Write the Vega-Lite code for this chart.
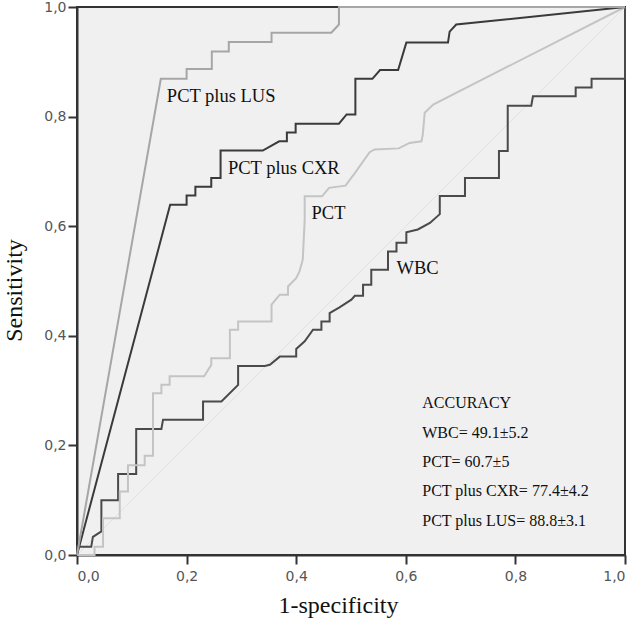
{
  "$schema": "https://vega.github.io/schema/vega-lite/v6.json",
  "width": 548,
  "height": 548,
  "autosize": "none",
  "padding": {"left": 77, "top": 7, "right": 13, "bottom": 64},
  "background": "white",
  "config": {
    "view": {"fill": "#f0f0f0", "stroke": "#333333", "strokeWidth": 2},
    "axis": {
      "grid": false,
      "domainColor": "#333333",
      "domainWidth": 2,
      "tickColor": "#333333",
      "tickWidth": 2,
      "tickSize": 9,
      "labelFont": "DejaVu Sans",
      "labelFontSize": 14,
      "labelColor": "#555555",
      "titleFont": "Liberation Serif",
      "titleFontSize": 24,
      "titleFontWeight": "normal",
      "titleColor": "#111111"
    }
  },
  "datasets": {
    "curves": [
      {"s": "WBC", "x": 0, "y": 0},
      {"s": "WBC", "x": 0, "y": 0.015},
      {"s": "WBC", "x": 0.026, "y": 0.015},
      {"s": "WBC", "x": 0.029, "y": 0.033},
      {"s": "WBC", "x": 0.0445, "y": 0.043},
      {"s": "WBC", "x": 0.0445, "y": 0.1},
      {"s": "WBC", "x": 0.075, "y": 0.1},
      {"s": "WBC", "x": 0.075, "y": 0.148},
      {"s": "WBC", "x": 0.108, "y": 0.148},
      {"s": "WBC", "x": 0.108, "y": 0.23},
      {"s": "WBC", "x": 0.154, "y": 0.23},
      {"s": "WBC", "x": 0.157, "y": 0.247},
      {"s": "WBC", "x": 0.23, "y": 0.247},
      {"s": "WBC", "x": 0.23, "y": 0.28},
      {"s": "WBC", "x": 0.2635, "y": 0.28},
      {"s": "WBC", "x": 0.294, "y": 0.3105},
      {"s": "WBC", "x": 0.294, "y": 0.345},
      {"s": "WBC", "x": 0.3425, "y": 0.345},
      {"s": "WBC", "x": 0.352, "y": 0.347},
      {"s": "WBC", "x": 0.37, "y": 0.362},
      {"s": "WBC", "x": 0.4, "y": 0.362},
      {"s": "WBC", "x": 0.4, "y": 0.376},
      {"s": "WBC", "x": 0.4155, "y": 0.39},
      {"s": "WBC", "x": 0.4307, "y": 0.411},
      {"s": "WBC", "x": 0.446, "y": 0.411},
      {"s": "WBC", "x": 0.446, "y": 0.426},
      {"s": "WBC", "x": 0.461, "y": 0.426},
      {"s": "WBC", "x": 0.461, "y": 0.4415},
      {"s": "WBC", "x": 0.479, "y": 0.452},
      {"s": "WBC", "x": 0.5007, "y": 0.466},
      {"s": "WBC", "x": 0.507, "y": 0.473},
      {"s": "WBC", "x": 0.522, "y": 0.473},
      {"s": "WBC", "x": 0.522, "y": 0.493},
      {"s": "WBC", "x": 0.537, "y": 0.493},
      {"s": "WBC", "x": 0.537, "y": 0.5205},
      {"s": "WBC", "x": 0.5675, "y": 0.5205},
      {"s": "WBC", "x": 0.5675, "y": 0.554},
      {"s": "WBC", "x": 0.583, "y": 0.554},
      {"s": "WBC", "x": 0.583, "y": 0.57},
      {"s": "WBC", "x": 0.601, "y": 0.57},
      {"s": "WBC", "x": 0.601, "y": 0.589},
      {"s": "WBC", "x": 0.622, "y": 0.594},
      {"s": "WBC", "x": 0.644, "y": 0.606},
      {"s": "WBC", "x": 0.662, "y": 0.622},
      {"s": "WBC", "x": 0.662, "y": 0.655},
      {"s": "WBC", "x": 0.708, "y": 0.655},
      {"s": "WBC", "x": 0.708, "y": 0.688},
      {"s": "WBC", "x": 0.77, "y": 0.688},
      {"s": "WBC", "x": 0.77, "y": 0.737},
      {"s": "WBC", "x": 0.786, "y": 0.737},
      {"s": "WBC", "x": 0.786, "y": 0.82},
      {"s": "WBC", "x": 0.829, "y": 0.82},
      {"s": "WBC", "x": 0.832, "y": 0.837},
      {"s": "WBC", "x": 0.91, "y": 0.837},
      {"s": "WBC", "x": 0.91, "y": 0.853},
      {"s": "WBC", "x": 0.939, "y": 0.853},
      {"s": "WBC", "x": 0.939, "y": 0.869},
      {"s": "WBC", "x": 1, "y": 0.869},
      {"s": "WBC", "x": 1, "y": 1},

      {"s": "PCT", "x": 0, "y": 0},
      {"s": "PCT", "x": 0.032, "y": 0},
      {"s": "PCT", "x": 0.032, "y": 0.015},
      {"s": "PCT", "x": 0.0475, "y": 0.015},
      {"s": "PCT", "x": 0.0475, "y": 0.067},
      {"s": "PCT", "x": 0.078, "y": 0.067},
      {"s": "PCT", "x": 0.078, "y": 0.116},
      {"s": "PCT", "x": 0.093, "y": 0.116},
      {"s": "PCT", "x": 0.093, "y": 0.164},
      {"s": "PCT", "x": 0.1235, "y": 0.164},
      {"s": "PCT", "x": 0.1235, "y": 0.181},
      {"s": "PCT", "x": 0.1387, "y": 0.181},
      {"s": "PCT", "x": 0.1387, "y": 0.295},
      {"s": "PCT", "x": 0.154, "y": 0.295},
      {"s": "PCT", "x": 0.154, "y": 0.3105},
      {"s": "PCT", "x": 0.169, "y": 0.3105},
      {"s": "PCT", "x": 0.169, "y": 0.326},
      {"s": "PCT", "x": 0.232, "y": 0.326},
      {"s": "PCT", "x": 0.245, "y": 0.347},
      {"s": "PCT", "x": 0.245, "y": 0.359},
      {"s": "PCT", "x": 0.279, "y": 0.359},
      {"s": "PCT", "x": 0.279, "y": 0.411},
      {"s": "PCT", "x": 0.294, "y": 0.411},
      {"s": "PCT", "x": 0.294, "y": 0.426},
      {"s": "PCT", "x": 0.355, "y": 0.426},
      {"s": "PCT", "x": 0.355, "y": 0.457},
      {"s": "PCT", "x": 0.37, "y": 0.475},
      {"s": "PCT", "x": 0.385, "y": 0.475},
      {"s": "PCT", "x": 0.385, "y": 0.49},
      {"s": "PCT", "x": 0.4, "y": 0.505},
      {"s": "PCT", "x": 0.406, "y": 0.5175},
      {"s": "PCT", "x": 0.412, "y": 0.539},
      {"s": "PCT", "x": 0.4155, "y": 0.612},
      {"s": "PCT", "x": 0.4155, "y": 0.6545},
      {"s": "PCT", "x": 0.447, "y": 0.6545},
      {"s": "PCT", "x": 0.46, "y": 0.67},
      {"s": "PCT", "x": 0.49, "y": 0.674},
      {"s": "PCT", "x": 0.507, "y": 0.697},
      {"s": "PCT", "x": 0.534, "y": 0.735},
      {"s": "PCT", "x": 0.543, "y": 0.74},
      {"s": "PCT", "x": 0.587, "y": 0.742},
      {"s": "PCT", "x": 0.607, "y": 0.752},
      {"s": "PCT", "x": 0.6285, "y": 0.755},
      {"s": "PCT", "x": 0.631, "y": 0.767},
      {"s": "PCT", "x": 0.6345, "y": 0.807},
      {"s": "PCT", "x": 0.65, "y": 0.822},
      {"s": "PCT", "x": 1, "y": 1},

      {"s": "PCT plus CXR", "x": 0, "y": 0},
      {"s": "PCT plus CXR", "x": 0.17, "y": 0.639},
      {"s": "PCT plus CXR", "x": 0.2, "y": 0.639},
      {"s": "PCT plus CXR", "x": 0.2, "y": 0.656},
      {"s": "PCT plus CXR", "x": 0.216, "y": 0.656},
      {"s": "PCT plus CXR", "x": 0.216, "y": 0.672},
      {"s": "PCT plus CXR", "x": 0.245, "y": 0.672},
      {"s": "PCT plus CXR", "x": 0.245, "y": 0.688},
      {"s": "PCT plus CXR", "x": 0.262, "y": 0.688},
      {"s": "PCT plus CXR", "x": 0.262, "y": 0.738},
      {"s": "PCT plus CXR", "x": 0.339, "y": 0.738},
      {"s": "PCT plus CXR", "x": 0.369, "y": 0.755},
      {"s": "PCT plus CXR", "x": 0.383, "y": 0.755},
      {"s": "PCT plus CXR", "x": 0.383, "y": 0.771},
      {"s": "PCT plus CXR", "x": 0.399, "y": 0.771},
      {"s": "PCT plus CXR", "x": 0.399, "y": 0.787},
      {"s": "PCT plus CXR", "x": 0.478, "y": 0.787},
      {"s": "PCT plus CXR", "x": 0.492, "y": 0.804},
      {"s": "PCT plus CXR", "x": 0.508, "y": 0.804},
      {"s": "PCT plus CXR", "x": 0.508, "y": 0.869},
      {"s": "PCT plus CXR", "x": 0.539, "y": 0.869},
      {"s": "PCT plus CXR", "x": 0.553, "y": 0.885},
      {"s": "PCT plus CXR", "x": 0.586, "y": 0.885},
      {"s": "PCT plus CXR", "x": 0.601, "y": 0.935},
      {"s": "PCT plus CXR", "x": 0.677, "y": 0.935},
      {"s": "PCT plus CXR", "x": 0.68, "y": 0.955},
      {"s": "PCT plus CXR", "x": 0.692, "y": 0.968},
      {"s": "PCT plus CXR", "x": 1, "y": 1},

      {"s": "PCT plus LUS", "x": 0, "y": 0},
      {"s": "PCT plus LUS", "x": 0.153, "y": 0.869},
      {"s": "PCT plus LUS", "x": 0.2, "y": 0.869},
      {"s": "PCT plus LUS", "x": 0.2, "y": 0.887},
      {"s": "PCT plus LUS", "x": 0.246, "y": 0.887},
      {"s": "PCT plus LUS", "x": 0.246, "y": 0.919},
      {"s": "PCT plus LUS", "x": 0.277, "y": 0.919},
      {"s": "PCT plus LUS", "x": 0.277, "y": 0.936},
      {"s": "PCT plus LUS", "x": 0.355, "y": 0.936},
      {"s": "PCT plus LUS", "x": 0.355, "y": 0.953},
      {"s": "PCT plus LUS", "x": 0.464, "y": 0.953},
      {"s": "PCT plus LUS", "x": 0.478, "y": 0.968},
      {"s": "PCT plus LUS", "x": 0.478, "y": 1},
      {"s": "PCT plus LUS", "x": 1, "y": 1}
    ],
    "ref": [{"x": 0, "y": 0}, {"x": 1, "y": 1}],
    "labels": [
      {"t": "PCT plus LUS", "x": 0.164, "y": 0.838},
      {"t": "PCT plus CXR", "x": 0.2755, "y": 0.707},
      {"t": "PCT", "x": 0.428, "y": 0.625},
      {"t": "WBC", "x": 0.583, "y": 0.524}
    ],
    "accuracy": [
      {"t": "ACCURACY", "x": 0.63, "y": 0.277},
      {"t": "WBC= 49.1±5.2", "x": 0.63, "y": 0.222},
      {"t": "PCT= 60.7±5", "x": 0.63, "y": 0.17},
      {"t": "PCT plus CXR= 77.4±4.2", "x": 0.63, "y": 0.116},
      {"t": "PCT plus LUS= 88.8±3.1", "x": 0.63, "y": 0.0626}
    ]
  },
  "encoding": {
    "x": {
      "field": "x", "type": "quantitative",
      "scale": {"domain": [0, 1], "nice": false},
      "axis": {"title": "1-specificity", "values": [0, 0.2, 0.4, 0.6, 0.8, 1], "labelExpr": "replace(format(datum.value, '.1f'), '.', ',')", "labelPadding": 5, "titlePadding": 10, "titleX": 261}
    },
    "y": {
      "field": "y", "type": "quantitative",
      "scale": {"domain": [0, 1], "nice": false},
      "axis": {"title": "Sensitivity", "values": [0, 0.2, 0.4, 0.6, 0.8, 1], "labelExpr": "replace(format(datum.value, '.1f'), '.', ',')", "labelPadding": 2, "titlePadding": 17, "titleY": 283}
    }
  },
  "layer": [
    {
      "data": {"name": "ref"},
      "mark": {"type": "line", "color": "#e2e2e2", "strokeWidth": 1},
      "encoding": {}
    },
    {
      "data": {"name": "curves"},
      "mark": {"type": "line", "strokeWidth": 2, "clip": false},
      "encoding": {
        "color": {
          "field": "s", "type": "nominal", "legend": null,
          "scale": {"domain": ["WBC", "PCT", "PCT plus CXR", "PCT plus LUS"], "range": ["#4a4a4a", "#c4c4c4", "#3a3a3a", "#a6a6a6"]}
        },
        "detail": {"field": "s"},
        "order": {"value": null}
      }
    },
    {
      "data": {"name": "labels"},
      "mark": {"type": "text", "font": "Liberation Serif", "fontSize": 18.5, "align": "left", "baseline": "middle", "color": "#111111"},
      "encoding": {"text": {"field": "t"}}
    },
    {
      "data": {"name": "accuracy"},
      "mark": {"type": "text", "font": "Liberation Serif", "fontSize": 16, "align": "left", "baseline": "middle", "color": "#111111"},
      "encoding": {"text": {"field": "t"}}
    }
  ]
}
